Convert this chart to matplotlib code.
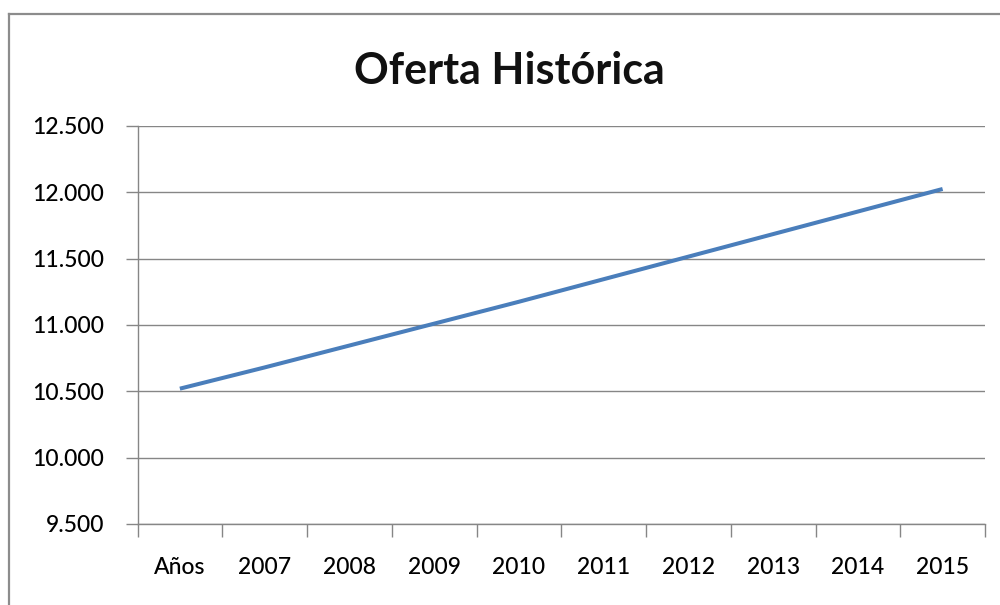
import matplotlib.pyplot as plt
from matplotlib.ticker import FixedLocator, FuncFormatter
from matplotlib.lines import Line2D

plt.rcParams['font.family'] = ['Lato', 'DejaVu Sans']

categorias = ['Años', '2007', '2008', '2009', '2010', '2011', '2012', '2013', '2014', '2015']
oferta = [10520, 10680, 10845, 11010, 11175, 11345, 11515, 11685, 11855, 12025]

fig = plt.figure(figsize=(10, 6.05), dpi=100)
ax = fig.add_axes([0.1375, 0.1339, 0.8475, 0.6579])

x = list(range(len(categorias)))
ax.plot(x, oferta, color='#4a7ebb', linewidth=2.9, solid_capstyle='butt')

ax.set_xlim(-0.5, len(categorias) - 0.5)
ax.set_ylim(9500, 12500)
ax.set_yticks(range(9500, 12501, 500))
ax.yaxis.set_major_formatter(FuncFormatter(lambda v, p: f'{int(v):,}'.replace(',', '.')))

# category boundaries carry the tick marks, labels sit in the middle
ax.xaxis.set_major_locator(FixedLocator([i - 0.5 for i in range(len(categorias) + 1)]))
ax.xaxis.set_major_formatter(FuncFormatter(lambda v, p: ''))
ax.xaxis.set_minor_locator(FixedLocator(x))
ax.set_xticklabels(categorias, minor=True)

ax.grid(axis='y', color='#868686', linewidth=1)
ax.set_axisbelow(True)
for s in ['top', 'right']:
    ax.spines[s].set_visible(False)
for s in ['left', 'bottom']:
    ax.spines[s].set_color('#868686')
    ax.spines[s].set_linewidth(1)

ax.tick_params(axis='x', which='major', length=9, color='#868686', width=1)
ax.tick_params(axis='x', which='minor', length=0, pad=24, labelsize=16.5, labelcolor='#000000')
ax.tick_params(axis='y', length=9, color='#868686', width=1, pad=15, labelsize=16.5, labelcolor='#000000')
for lbl in ax.get_yticklabels() + ax.get_xticklabels(minor=True):
    lbl.set_fontweight('medium')

fig.text(0.509, 0.883, 'Oferta Histórica', ha='center', va='center',
         fontsize=31, fontweight='bold', color='#111111')

# outer chart frame (left and top edges)
fig.add_artist(Line2D([0.009, 0.009], [0, 0.977], transform=fig.transFigure,
                      color='#8c8c8c', linewidth=1.6))
fig.add_artist(Line2D([0.009, 1.0], [0.977, 0.977], transform=fig.transFigure,
                      color='#8c8c8c', linewidth=1.6))

fig.savefig('out.png', dpi=100)
